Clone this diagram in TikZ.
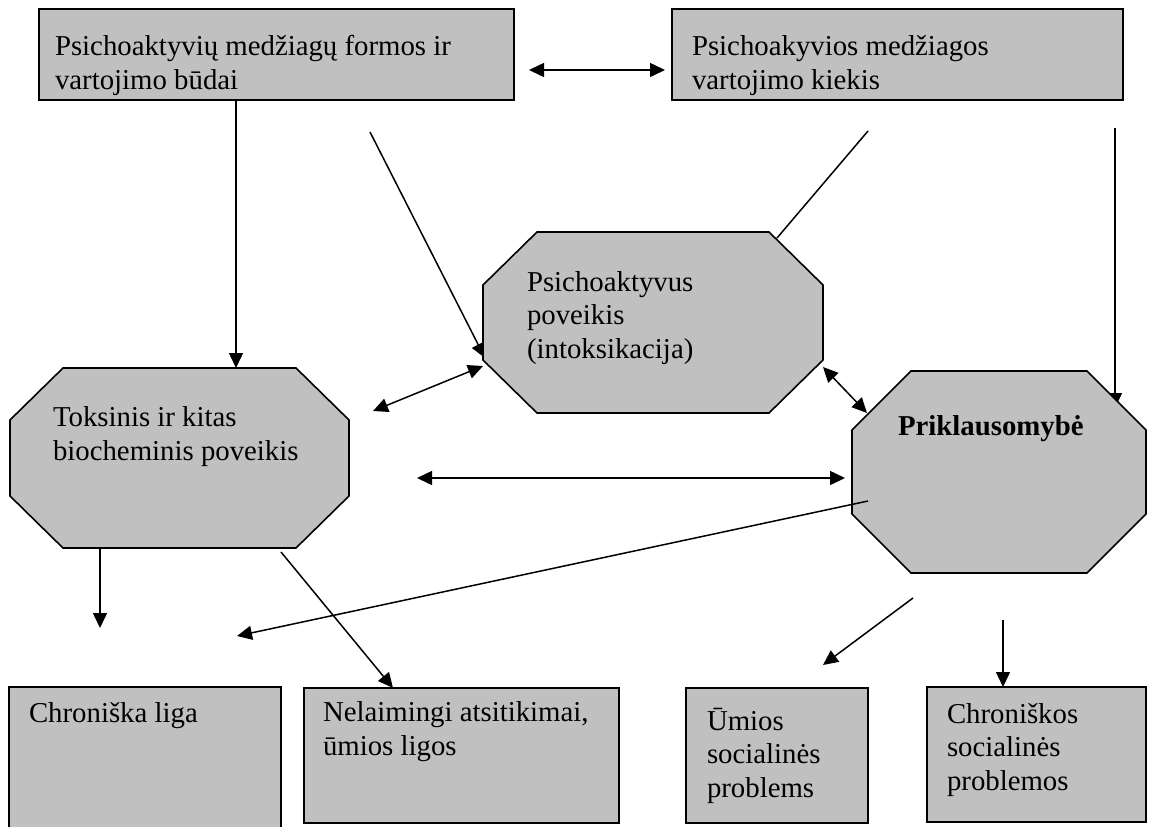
\documentclass[tikz,border=0pt]{standalone}
\usepackage{fontspec}
\setmainfont{Liberation Serif}
\usetikzlibrary{arrows.meta}
\definecolor{boxgray}{RGB}{192,192,192}
\pgfdeclarelayer{bg}
\pgfsetlayers{bg,main}
\newcommand\octpath[3]{%
  \draw[oct] ([xshift=#2]#1.north west) -- ([xshift=-#2]#1.north east)
    -- ([yshift=-#3]#1.north east) -- ([yshift=#3]#1.south east)
    -- ([xshift=-#2]#1.south east) -- ([xshift=#2]#1.south west)
    -- ([yshift=#3]#1.south west) -- ([yshift=-#3]#1.north west) -- cycle;}
\begin{document}
\begin{tikzpicture}[x=1pt,y=-1pt,
  box/.style={rectangle, draw=black, fill=boxgray, line width=1.6pt, inner sep=0pt, outer sep=0pt},
  frame/.style={rectangle, inner sep=0pt, outer sep=0pt},
  oct/.style={draw=black, fill=boxgray, line width=1.6pt, line join=miter},
  lbl/.style={anchor=base west, inner sep=0pt, outer sep=0pt, align=left, font=\fontsize{28.8}{33.1}\selectfont},
  con/.style={line width=1.5pt},
  arr/.style={con, -{Triangle[length=15pt,width=14pt]}},
  dbl/.style={con, {Triangle[length=15pt,width=14pt]}-{Triangle[length=15pt,width=14pt]}},
]
\clip (0,0) rectangle (1149,827);
\useasboundingbox (0,0) rectangle (1149,827);

% top boxes
\node[box, minimum width=475pt, minimum height=91pt] (TL) at (276.5,54.5) {};
\node[box, minimum width=451pt, minimum height=91pt] (TR) at (897.5,54.5) {};

% octagon frames
\node[frame, minimum width=339pt, minimum height=180pt] (T) at (179.5,458) {};
\node[frame, minimum width=340pt, minimum height=181pt] (M) at (653,322.5) {};
\node[frame, minimum width=294pt, minimum height=202pt] (P) at (999,472) {};
\octpath{T}{53}{52}
\octpath{M}{54}{53}
\octpath{P}{59}{59}

% bottom boxes
\node[box, minimum width=272pt, minimum height=150pt] (B1) at (145,762) {};
\node[box, minimum width=315pt, minimum height=135pt] (B2) at (461.5,755.5) {};
\node[box, minimum width=182pt, minimum height=135pt] (B3) at (777,755.5) {};
\node[box, minimum width=219pt, minimum height=135pt] (B4) at (1036.5,754.5) {};

% free ends of connectors
\coordinate (c1a) at (529,70);  \coordinate (c1b) at (665,70);
\coordinate (c3a) at (370,132); \coordinate (c3b) at (485,358);
\coordinate (c4a) at (868,131); \coordinate (c4b) at (777,238);
\coordinate (c5a) at (1115,128); \coordinate (c5b) at (1115,408);
\coordinate (c6a) at (373,411); \coordinate (c6b) at (483,366);
\coordinate (c7a) at (823,367); \coordinate (c7b) at (867,413);
\coordinate (c8a) at (417,478); \coordinate (c8b) at (845,478);
\coordinate (c9a) at (868,501); \coordinate (c9b) at (237,636);
\coordinate (c10b) at (100,628);
\coordinate (c11a) at (281,552);
\coordinate (c12a) at (913,598); \coordinate (c12b) at (823,665);
\coordinate (c13a) at (1003,620);

% connectors
\draw[dbl] (c1a) -- (c1b);
\draw[arr] (TL.south -| 236,0) -- (T.north -| 236,0);
\begin{pgfonlayer}{bg}
\draw[arr] (c3a) -- (c3b);
\draw[arr] (c5a) -- (c5b);
\end{pgfonlayer}
\draw[con] (c4a) -- (c4b);
\draw[dbl] (c6a) -- (c6b);
\draw[dbl] (c7a) -- (c7b);
\draw[dbl] (c8a) -- (c8b);
\draw[arr] (c9a) -- (c9b);
\draw[arr] (T.south -| 100,0) -- (c10b);
\draw[arr] (c11a) -- (B2.north -| 393,0);
\draw[arr] (c12a) -- (c12b);
\draw[arr] (c13a) -- (B4.north -| 1003,0);

% texts (anchor = baseline of the last line)
\node[lbl] (tTL) at (55,89) {Psichoaktyvių medžiagų formos ir\\vartojimo būdai};
\node[lbl] (tTR) at (692,89) {Psichoakyvios medžiagos\\vartojimo kiekis};
\node[lbl] (tM) at (527,358) {Psichoaktyvus\\poveikis\\(intoksikacija)};
\node[lbl] (tT) at (53,460) {Toksinis ir kitas\\biocheminis poveikis};
\node[lbl, font=\fontsize{28.8}{33.1}\selectfont\bfseries] (tP) at (898,435) {Priklausomybė};
\node[lbl] (tB1) at (29,722) {Chroniška liga};
\node[lbl] (tB2) at (323,755) {Nelaimingi atsitikimai,\\ūmios ligos};
\node[lbl] (tB3) at (707,797) {Ūmios\\socialinės\\problems};
\node[lbl] (tB4) at (947,790) {Chroniškos\\socialinės\\problemos};
\end{tikzpicture}
\end{document}
